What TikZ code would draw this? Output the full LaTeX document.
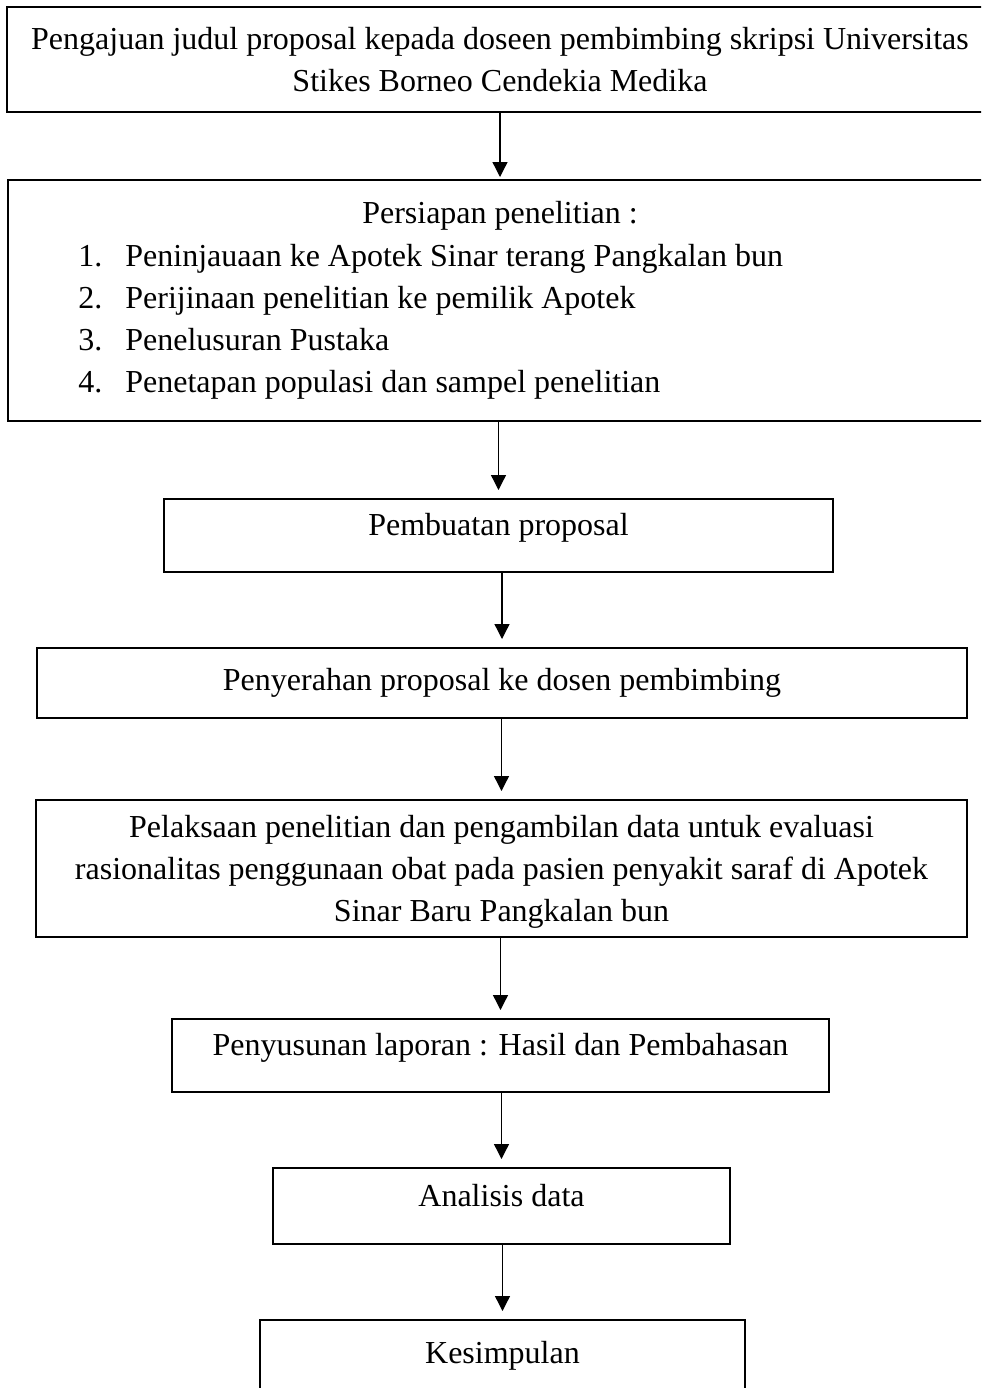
\documentclass[tikz,border=0pt]{standalone}
\usepackage{fontspec}
\setmainfont{Liberation Serif}
\usetikzlibrary{arrows.meta}
\begin{document}
\begin{tikzpicture}[x=0.5pt,y=-0.5pt,
  font=\fontsize{16}{21}\selectfont,
  kotak/.style={draw,line width=1pt,rectangle,inner sep=0pt,align=center},
  naik/.style={text height=11pt,text depth=11pt},
  panah/.style={line width=0.65pt,-{Triangle[width=7.5pt,length=7.5pt]},shorten >=4pt}]
\clip (0,0) rectangle (981,1388);
\node[kotak,minimum width=493pt,minimum height=52.5pt] (judul) at (500,59.5)
  {Pengajuan judul proposal kepada doseen pembimbing skripsi Universitas\\Stikes Borneo Cendekia Medika};
\node[kotak,minimum width=492.5pt,minimum height=120.5pt] (persiapan) at (500,300.5) {};
\node (persiapanjudul) at (500,216) {Persiapan penelitian :};
\node[anchor=west,inner sep=0pt] (langkah) at (78,321) {\begin{tabular}{@{}l@{\hspace{11.5pt}}l@{}}
  1. & Peninjauaan ke Apotek Sinar terang Pangkalan bun\\
  2. & Perijinaan penelitian ke pemilik Apotek\\
  3. & Penelusuran Pustaka\\
  4. & Penetapan populasi dan sampel penelitian
  \end{tabular}};
\node[kotak,naik,minimum width=334.5pt,minimum height=36.5pt] (proposal) at (498.5,535.5) {Pembuatan proposal};
\node[kotak,minimum width=465pt,minimum height=35pt] (penyerahan) at (502,683) {Penyerahan proposal ke dosen pembimbing};
\node[kotak,text depth=-2.5pt,minimum width=465.5pt,minimum height=68.5pt] (pelaksanaan) at (501.5,868.5)
  {Pelaksaan penelitian dan pengambilan data untuk evaluasi\\rasionalitas penggunaan obat pada pasien penyakit saraf di Apotek\\Sinar Baru Pangkalan bun};
\node[kotak,naik,minimum width=328.5pt,minimum height=36.5pt] (laporan) at (500.5,1055.5) {Penyusunan laporan : Hasil dan Pembahasan};
\node[kotak,naik,minimum width=228.5pt,minimum height=38pt] (analisis) at (501.5,1206) {Analisis data};
\node[kotak,minimum width=242.5pt,minimum height=36pt] (kesimpulan) at (502.5,1356) {Kesimpulan};
% alur
\draw[panah,shorten >=1pt] (judul.south -| persiapan.north) -- (persiapan.north);
\draw[panah] (persiapan.south -| proposal.north) -- (proposal.north);
\draw[panah] (proposal.south -| penyerahan.north) -- (penyerahan.north);
\draw[panah] (penyerahan.south -| pelaksanaan.north) -- (pelaksanaan.north);
\draw[panah] (pelaksanaan.south -| laporan.north) -- (laporan.north);
\draw[panah] (laporan.south -| analisis.north) -- (analisis.north);
\draw[panah] (analisis.south -| kesimpulan.north) -- (kesimpulan.north);
\end{tikzpicture}
\end{document}
